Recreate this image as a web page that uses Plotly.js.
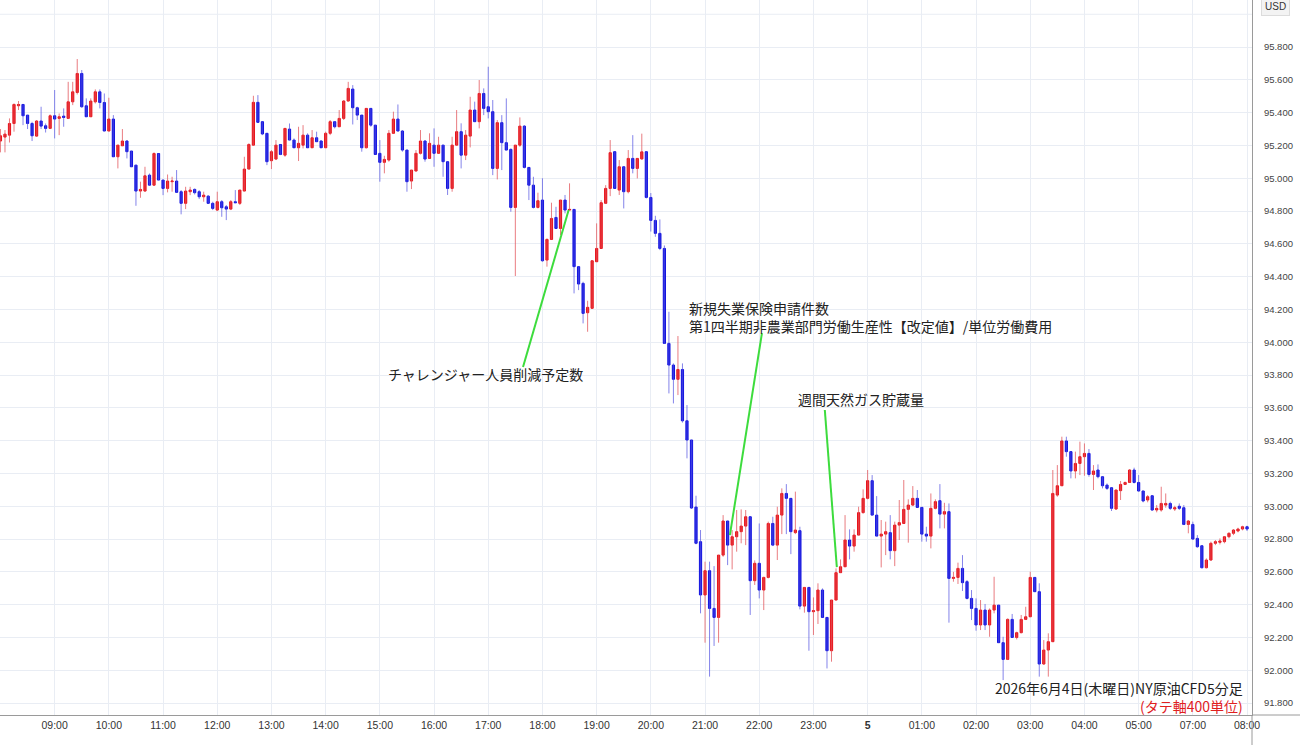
<!DOCTYPE html>
<html><head><meta charset="utf-8">
<script src="https://cdn.plot.ly/plotly-3.0.1.min.js"></script>
<style>html,body{margin:0;padding:0;background:#fff;}#chart{width:1300px;height:745px;}</style>
</head><body><div id="chart"></div>
<script>
// NY crude oil CFD, 5-minute candles, 2026-06-04 08:00 -> 2026-06-05 08:00 (JST); 06:00-07:00 is the daily break
const opens = [
95.227,95.251,95.263,95.334,95.442,95.450,95.385,95.334,95.257,95.349,95.320,95.304,95.381,95.365,95.379,95.365,95.466,95.523,95.639,95.442,
95.375,95.466,95.527,95.462,95.288,95.361,95.131,95.198,95.227,95.166,95.080,94.922,94.922,95.019,94.958,95.151,94.989,94.938,94.979,94.983,
94.918,94.847,94.918,94.932,94.918,94.887,94.891,94.847,94.806,94.857,94.826,94.812,94.857,94.847,94.922,95.056,95.202,95.463,95.345,95.274,
95.107,95.117,95.206,95.141,95.300,95.233,95.186,95.202,95.263,95.186,95.247,95.227,95.186,95.274,95.345,95.314,95.365,95.471,95.544,95.430,
95.385,95.186,95.426,95.324,95.152,95.097,95.111,95.274,95.361,95.288,95.172,94.983,95.044,95.152,95.227,95.121,95.202,95.152,95.202,95.101,
94.938,95.202,95.284,95.141,95.257,95.416,95.345,95.517,95.436,95.406,95.060,95.339,95.217,95.176,94.822,95.202,95.318,95.066,94.958,94.822,
94.867,94.501,94.627,94.761,94.694,94.867,94.806,94.810,94.461,94.359,94.180,94.207,94.491,94.572,94.847,94.938,95.162,94.928,95.070,94.918,
95.121,95.060,95.118,95.162,94.883,94.743,94.664,94.572,93.993,93.861,93.774,93.834,93.521,93.404,92.995,92.784,92.459,92.607,92.377,92.322,
92.702,92.910,92.763,92.814,92.845,92.879,92.936,92.546,92.652,92.489,92.566,92.895,92.763,92.946,93.078,93.048,92.839,92.851,92.391,92.505,
92.357,92.363,92.489,92.322,92.119,92.428,92.595,92.631,92.794,92.757,92.824,92.961,93.048,93.156,92.946,92.818,92.830,92.839,92.729,92.885,
92.895,92.981,93.007,93.048,92.993,92.830,92.818,92.987,93.034,92.952,92.967,92.560,92.566,92.621,92.540,92.438,92.377,92.276,92.367,92.276,
92.367,92.397,92.168,92.066,92.310,92.200,92.229,92.310,92.326,92.566,92.479,92.038,92.123,92.174,93.068,93.125,93.398,93.333,93.215,93.261,
93.302,93.322,93.194,93.221,93.180,93.129,93.113,92.983,93.095,93.133,93.145,93.221,93.145,93.093,93.038,93.064,92.977,92.977,93.007,93.017,
92.983,93.000,92.991,92.889,92.889,92.804,92.759,92.625,92.672,92.774,92.780,92.784,92.814,92.835,92.849,92.861,92.875];
const highs = [
95.300,95.294,95.365,95.456,95.471,95.450,95.385,95.344,95.355,95.436,95.334,95.389,95.538,95.395,95.426,95.588,95.588,95.727,95.660,95.487,
95.487,95.542,95.542,95.517,95.491,95.385,95.202,95.300,95.233,95.166,95.080,94.979,95.070,95.029,95.158,95.151,94.989,95.023,95.009,95.050,
94.928,94.948,94.948,94.938,94.928,94.918,94.897,94.857,94.918,94.867,94.837,94.867,94.928,94.928,95.131,95.213,95.503,95.507,95.345,95.274,
95.172,95.233,95.206,95.304,95.334,95.243,95.314,95.324,95.274,95.294,95.284,95.233,95.284,95.355,95.349,95.416,95.477,95.588,95.568,95.436,
95.385,95.426,95.426,95.324,95.233,95.137,95.294,95.406,95.450,95.294,95.172,95.050,95.172,95.294,95.233,95.274,95.304,95.253,95.202,95.101,
95.253,95.416,95.335,95.294,95.497,95.467,95.599,95.548,95.680,95.477,95.355,95.385,95.487,95.182,95.202,95.371,95.324,95.066,95.009,94.912,
95.000,94.633,94.851,94.826,94.867,94.898,94.969,94.810,94.461,94.369,94.253,94.501,94.725,94.867,94.958,95.233,95.162,95.111,95.070,95.172,
95.263,95.121,95.272,95.162,94.910,94.771,94.749,94.590,94.186,93.871,94.038,93.871,93.617,93.404,93.064,92.855,92.662,92.662,92.635,92.702,
92.946,92.910,92.855,92.977,92.981,92.977,92.936,92.670,92.895,92.570,92.906,92.936,92.997,93.109,93.135,93.048,93.089,92.875,92.505,92.505,
92.444,92.530,92.499,92.322,92.428,92.621,92.676,92.946,92.859,92.859,92.997,93.103,93.221,93.190,93.062,92.916,92.906,92.946,92.906,93.038,
93.160,93.042,93.123,93.099,92.993,92.875,93.078,93.042,93.135,93.021,93.017,92.600,92.656,92.702,92.550,92.489,92.438,92.428,92.404,92.377,
92.570,92.397,92.204,92.316,92.343,92.235,92.337,92.387,92.601,92.566,92.530,92.184,92.225,93.221,93.251,93.424,93.424,93.333,93.333,93.394,
93.383,93.349,93.251,93.255,93.180,93.139,93.113,93.099,93.154,93.150,93.227,93.235,93.190,93.093,93.068,93.064,93.007,93.119,93.078,93.028,
93.003,93.017,93.007,92.916,92.906,92.824,92.763,92.682,92.784,92.794,92.804,92.818,92.841,92.861,92.869,92.881,92.881];
const lows = [
95.158,95.158,95.218,95.284,95.416,95.324,95.300,95.227,95.253,95.300,95.279,95.300,95.243,95.263,95.314,95.361,95.446,95.511,95.430,95.375,
95.375,95.456,95.426,95.288,95.288,95.131,95.060,95.198,95.121,95.070,94.832,94.881,94.918,94.958,94.954,94.989,94.897,94.914,94.918,94.914,
94.780,94.812,94.897,94.901,94.873,94.857,94.847,94.806,94.800,94.765,94.745,94.806,94.851,94.837,94.922,95.056,95.202,95.341,95.263,95.080,
95.056,95.111,95.141,95.131,95.233,95.186,95.105,95.182,95.186,95.186,95.223,95.186,95.186,95.263,95.304,95.314,95.355,95.467,95.328,95.355,
95.162,95.182,95.314,95.145,94.979,95.030,95.101,95.274,95.288,95.162,94.918,94.934,95.044,95.145,95.101,95.121,95.070,95.152,95.009,94.898,
94.918,95.202,95.060,95.111,95.188,95.345,95.304,95.385,95.365,95.019,94.993,95.050,95.172,94.796,94.404,95.192,95.060,94.867,94.816,94.816,
94.491,94.461,94.627,94.694,94.654,94.786,94.806,94.298,94.318,94.115,94.064,94.207,94.491,94.572,94.843,94.891,94.938,94.898,94.816,94.908,
95.030,94.999,95.112,94.877,94.675,94.643,94.562,93.990,93.688,93.627,93.678,93.510,93.292,92.983,92.768,92.347,92.168,91.961,92.148,92.168,
92.692,92.641,92.615,92.723,92.774,92.763,92.337,92.520,92.438,92.367,92.560,92.757,92.672,92.830,92.830,92.708,92.830,92.371,92.351,92.119,
92.215,92.282,92.322,92.011,92.052,92.428,92.595,92.631,92.676,92.723,92.824,92.955,93.042,92.946,92.818,92.627,92.702,92.676,92.635,92.794,
92.895,92.778,93.001,92.993,92.784,92.784,92.743,92.981,92.865,92.865,92.290,92.540,92.526,92.483,92.432,92.306,92.241,92.245,92.245,92.204,
92.347,92.168,91.940,92.062,92.200,92.188,92.225,92.306,92.326,92.479,91.961,92.032,91.961,92.174,93.058,93.125,93.302,93.170,93.170,93.190,
93.186,93.180,93.099,93.170,93.109,93.099,92.971,92.977,93.038,93.129,93.145,93.139,93.089,93.024,93.024,92.971,92.963,92.967,92.991,92.977,
92.971,92.977,92.885,92.835,92.794,92.747,92.621,92.621,92.666,92.763,92.767,92.774,92.804,92.824,92.841,92.853,92.849];
const closes = [
95.259,95.269,95.334,95.450,95.450,95.381,95.334,95.259,95.349,95.318,95.304,95.381,95.361,95.375,95.371,95.466,95.527,95.639,95.436,95.375,
95.471,95.527,95.462,95.288,95.361,95.131,95.202,95.227,95.162,95.070,94.922,94.932,95.015,94.958,95.151,94.989,94.938,94.983,94.983,94.914,
94.847,94.922,94.928,94.912,94.887,94.897,94.847,94.816,94.857,94.820,94.812,94.857,94.851,94.928,95.056,95.206,95.463,95.341,95.270,95.101,
95.162,95.202,95.145,95.304,95.233,95.186,95.213,95.263,95.186,95.247,95.223,95.186,95.274,95.345,95.314,95.365,95.471,95.548,95.430,95.385,
95.186,95.426,95.324,95.145,95.097,95.115,95.274,95.361,95.288,95.172,94.979,95.050,95.152,95.227,95.117,95.213,95.152,95.202,95.101,94.938,
95.202,95.284,95.141,95.263,95.416,95.345,95.517,95.426,95.406,95.060,95.339,95.217,95.172,94.822,95.202,95.318,95.066,94.958,94.822,94.863,
94.497,94.627,94.755,94.694,94.867,94.806,94.810,94.461,94.355,94.176,94.213,94.497,94.572,94.851,94.938,95.156,94.938,95.070,94.918,95.121,
95.060,95.121,95.161,94.883,94.743,94.664,94.572,93.993,93.861,93.774,93.834,93.521,93.404,92.989,92.774,92.459,92.607,92.377,92.322,92.702,
92.910,92.763,92.814,92.845,92.879,92.936,92.546,92.652,92.489,92.566,92.895,92.763,92.946,93.078,93.048,92.845,92.855,92.391,92.505,92.357,
92.363,92.489,92.322,92.119,92.428,92.595,92.631,92.794,92.757,92.824,92.961,93.048,93.156,92.946,92.818,92.830,92.845,92.729,92.885,92.900,
92.981,93.007,93.048,92.993,92.830,92.818,92.987,93.028,92.952,92.967,92.560,92.566,92.621,92.534,92.438,92.377,92.276,92.367,92.276,92.367,
92.397,92.168,92.066,92.310,92.200,92.229,92.310,92.326,92.566,92.479,92.038,92.123,92.174,93.078,93.125,93.398,93.333,93.215,93.261,93.302,
93.322,93.194,93.215,93.180,93.125,93.109,92.987,93.099,93.133,93.145,93.221,93.145,93.093,93.032,93.058,92.977,92.987,93.017,93.017,92.987,
92.991,92.987,92.889,92.910,92.800,92.753,92.625,92.672,92.774,92.784,92.788,92.814,92.835,92.855,92.861,92.875,92.861];

// price-axis tick labels (USD)
const priceTicks = [91.8, 92.0, 92.2, 92.4, 92.6, 92.8, 93.0, 93.2, 93.4, 93.6, 93.8, 94.0, 94.2, 94.4, 94.6, 94.8, 95.0, 95.2, 95.4, 95.6, 95.8];
const topGridPrice = 96.0;

// event annotations: text anchor (time, price), leader line from (time, price) to (time, price)
const eventTexts   = ['チャレンジャー人員削減予定数', '新規失業保険申請件数<br>第1四半期非農業部門労働生産性【改定値】/単位労働費用', '週間天然ガス貯蔵量'];
const eventTextX   = ['2026-06-04 16:56:30', '2026-06-04 20:40:30', '2026-06-04 22:41:00'];
const eventTextY   = [93.806, 94.156, 93.654];
const eventAnchor  = ['center', 'left', 'left'];
const leaderFromX  = ['2026-06-04 17:38:30', '2026-06-04 22:03:00', '2026-06-04 23:12:36'];
const leaderFromY  = [93.849, 94.056, 93.587];
const leaderToX    = ['2026-06-04 18:29:00', '2026-06-04 21:27:30', '2026-06-04 23:25:54'];
const leaderToY    = [94.806, 92.824, 92.629];
const titleText = '2026年6月4日(木曜日)NY原油CFD5分足';
const noteText  = '(タテ軸400単位)';

// timestamps (5-minute bars, skipping the 06:00 hour)
function pad(n){return (n<10?'0':'')+n;}
const times = [];
for (let m = 8*60; times.length < opens.length; m += 5) {
  const day = 4 + Math.floor(m/1440), h = Math.floor(m/60)%24, mi = m%60;
  if (h === 6) continue;
  times.push('2026-06-' + pad(day) + ' ' + pad(h) + ':' + pad(mi) + ':00');
}
// hourly ticks
const tickvals = [], ticktext = [];
for (let hh = 8; hh <= 32; hh++) {
  const h = hh % 24, day = 4 + Math.floor(hh/24);
  if (h === 6) continue;
  tickvals.push('2026-06-' + pad(day) + ' ' + pad(h) + ':00:00');
  ticktext.push(h === 0 ? '<b>5</b>' : pad(h) + ':00');
}

const bodyHigh = opens.map((o,i)=>Math.max(o, closes[i]));
const bodyLow  = opens.map((o,i)=>Math.min(o, closes[i]));

const UP = '#e8141c', DOWN = '#1414e0';
const traces = [
  { type:'ohlc', x:times, open:opens, high:highs, low:lows, close:closes, tickwidth:0,
    increasing:{line:{color:'rgba(225,80,85,0.75)', width:1}},
    decreasing:{line:{color:'rgba(80,80,225,0.7)', width:1}},
    hoverinfo:'skip' },
  { type:'candlestick', x:times, open:opens, high:bodyHigh, low:bodyLow, close:closes, whiskerwidth:0,
    width:150000,
    increasing:{line:{color:UP, width:1}, fillcolor:UP},
    decreasing:{line:{color:DOWN, width:1}, fillcolor:DOWN},
    hoverinfo:'skip' }
];

const cjk = '"Noto Sans CJK JP", "Noto Sans", sans-serif';
const annotations = eventTexts.map((t,i)=>({
  x:eventTextX[i], y:eventTextY[i], xref:'x', yref:'y', text:t, showarrow:false,
  xanchor:eventAnchor[i], yanchor:'middle', align:'left', font:{family:cjk, size:14, color:'#222'}
}));
annotations.push({x:0.9944, y:0.025, xref:'paper', yref:'paper',
  text:titleText + '<br><span style="color:#e0201e">' + noteText + '</span>', showarrow:false,
  xanchor:'right', yanchor:'middle', align:'right', font:{family:cjk, size:14, color:'#222'}});
annotations.push({x:1.0184, y:0.9916, xref:'paper', yref:'paper', text:'USD', showarrow:false,
  xanchor:'center', yanchor:'middle', bgcolor:'#f3f3f3', bordercolor:'#dcdcdc', borderwidth:1, borderpad:3,
  font:{family:'Liberation Sans, Arial, sans-serif', size:10, color:'#333'}});

const shapes = leaderFromX.map((x0,i)=>({type:'line', xref:'x', yref:'y', x0:x0, y0:leaderFromY[i], x1:leaderToX[i], y1:leaderToY[i],
  line:{color:'#3ddc3d', width:2}}));
shapes.push({type:'line', xref:'paper', yref:'y', x0:0, x1:1, y0:topGridPrice, y1:topGridPrice, layer:'below', line:{color:'#e9edf4', width:1}});
shapes.push({type:'line', xref:'paper', yref:'paper', x0:1, x1:1.04, y0:0, y1:0, line:{color:'#9a9a9a', width:1}});
shapes.push({type:'line', xref:'paper', yref:'paper', x0:1, x1:1, y0:-0.05, y1:0, line:{color:'#9a9a9a', width:1}});

const layout = {
  width:1300, height:745,
  margin:{l:0, r:48, t:0, b:30, pad:0},
  paper_bgcolor:'#ffffff', plot_bgcolor:'#ffffff',
  showlegend:false,
  xaxis:{type:'date', range:['2026-06-04 07:59:30','2026-06-05 08:05:30'],
    rangebreaks:[{pattern:'hour', bounds:[6,7]}],
    tickmode:'array', tickvals:tickvals, ticktext:ticktext, tickangle:0,
    showgrid:true, gridcolor:'#e9edf4', gridwidth:1, zeroline:false,
    showline:true, linecolor:'#9a9a9a', linewidth:1, ticks:'',
    tickfont:{family:'"Liberation Sans Narrow", "Liberation Sans", sans-serif', size:10.5, color:'#333'},
    rangeslider:{visible:false}, fixedrange:true},
  yaxis:{side:'right', range:[91.727, 96.087], tickmode:'array', tickvals:priceTicks, tickformat:'.3f',
    showgrid:true, gridcolor:'#e9edf4', gridwidth:1, zeroline:false,
    showline:true, linecolor:'#9a9a9a', linewidth:1, ticks:'', ticklabelstandoff:9,
    tickfont:{family:'"Liberation Sans", Arial, sans-serif', size:9.5, color:'#444'}, fixedrange:true},
  annotations:annotations,
  shapes:shapes
};

Plotly.newPlot('chart', traces, layout, {displayModeBar:false, staticPlot:true});
</script>
</body></html>
